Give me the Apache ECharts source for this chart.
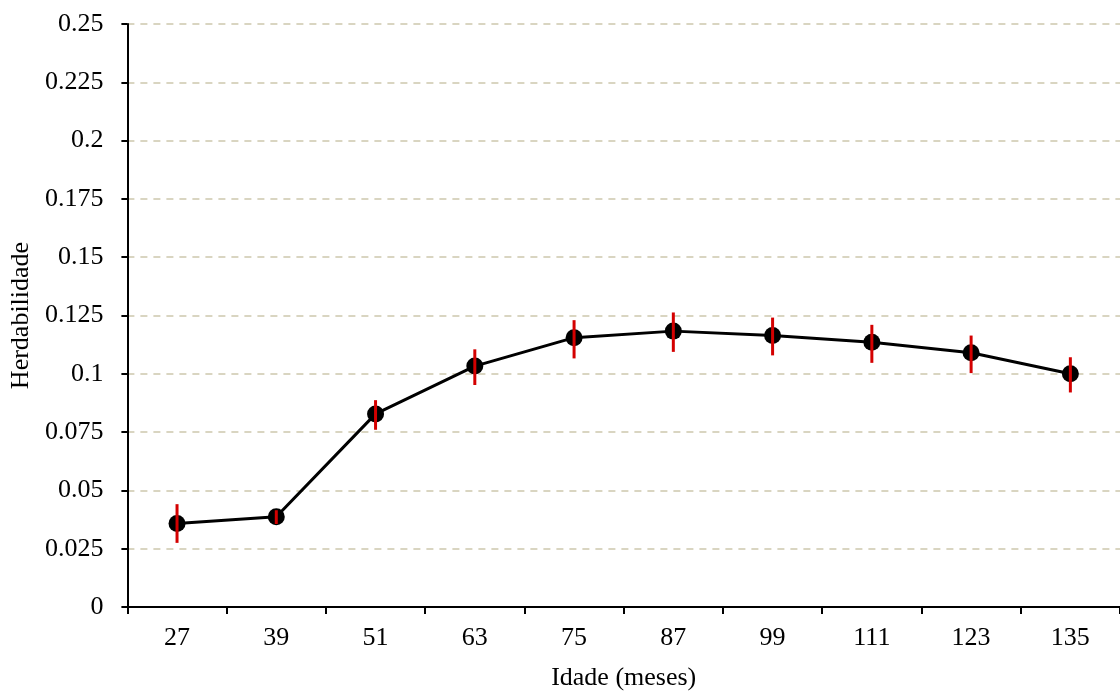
<!DOCTYPE html>
<html>
<head>
<meta charset="utf-8">
<script src="https://cdn.jsdelivr.net/npm/echarts@6/dist/echarts.min.js"></script>
<style>
html,body{margin:0;padding:0;background:#fff;overflow:hidden;}
#chart{width:1120px;height:696px;}
</style>
</head>
<body>
<div id="chart"></div>
<script>
const ages = ['27','39','51','63','75','87','99','111','123','135'];
const heritability = [0.0358, 0.0387, 0.0828, 0.1033, 0.1155, 0.1183, 0.1164, 0.1135, 0.1090, 0.1000];
const errLow  = [0.0275, 0.0356, 0.0760, 0.0952, 0.1066, 0.1094, 0.1079, 0.1047, 0.1003, 0.0920];
const errHigh = [0.0441, 0.0415, 0.0887, 0.1105, 0.1230, 0.1263, 0.1241, 0.1210, 0.1164, 0.1071];
const xTitle = 'Idade (meses)';
const yTitle = 'Herdabilidade';

const font = 'Liberation Serif';
const chart = echarts.init(document.getElementById('chart'));
const errData = ages.map((a, i) => [i, errLow[i], errHigh[i]]);

chart.setOption({
  backgroundColor: '#ffffff',
  animation: false,
  grid: { left: 127, right: -2, top: 24, height: 588, containLabel: false },
  xAxis: {
    type: 'category',
    data: ages,
    boundaryGap: true,
    name: xTitle,
    nameLocation: 'middle',
    nameGap: 58,
    nameTextStyle: { fontFamily: font, fontSize: 26, color: '#000' },
    axisLine: { lineStyle: { color: '#000', width: 2 } },
    axisTick: { show: true, alignWithLabel: false, length: 7, lineStyle: { color: '#000', width: 2 } },
    axisLabel: { fontFamily: font, fontSize: 26, color: '#000', margin: 18 },
    splitLine: { show: false }
  },
  yAxis: {
    type: 'value',
    min: 0,
    max: 0.25,
    interval: 0.025,
    name: yTitle,
    nameLocation: 'middle',
    nameGap: 88,
    nameTextStyle: { fontFamily: font, fontSize: 26, color: '#000' },
    axisLine: { show: true, lineStyle: { color: '#000', width: 2 } },
    axisTick: { show: true, length: 6, lineStyle: { color: '#000', width: 2 } },
    axisLabel: { fontFamily: font, fontSize: 26, color: '#000', margin: 24 },
    splitLine: { show: true, lineStyle: { color: '#d9d5c1', width: 2, type: [7, 6] } }
  },
  series: [
    {
      type: 'line',
      data: heritability,
      symbol: 'circle',
      symbolSize: 17,
      itemStyle: { color: '#000' },
      lineStyle: { color: '#000', width: 3 },
      z: 2
    },
    {
      type: 'custom',
      data: errData,
      z: 3,
      renderItem: function (params, api) {
        const x = api.value(0);
        const lo = api.coord([x, api.value(1)]);
        const hi = api.coord([x, api.value(2)]);
        return {
          type: 'line',
          shape: { x1: lo[0], y1: lo[1], x2: hi[0], y2: hi[1] },
          style: { stroke: '#d40000', lineWidth: 3 }
        };
      }
    }
  ]
});
</script>
</body>
</html>
